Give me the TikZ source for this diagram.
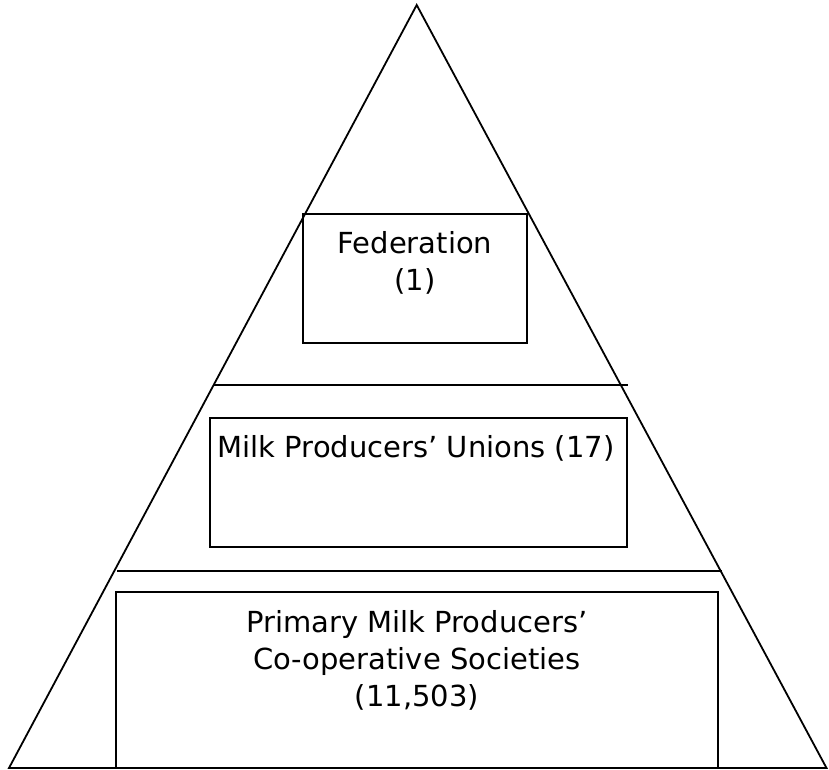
\documentclass[tikz,border=0pt]{standalone}
\usepackage{fontspec}
\setmainfont{DejaVu Sans}
\usetikzlibrary{positioning}

\begin{document}
\begin{tikzpicture}[x=1pt, y=1pt]
 \useasboundingbox (0,0) rectangle (829,769);
 \begin{scope}[every node/.append style={rectangle, draw=black, line width=2pt, inner sep=0pt}]
    \node[minimum width=224pt, minimum height=129pt] (fed) at (415, 490.5) {};
    \node[minimum width=417pt, minimum height=129pt] (unions) at (418.5, 286.8) {};
    \node[minimum width=602pt, minimum height=176pt] (primary) at (416.9, 89) {};
 \end{scope}
 \begin{scope}[every node/.append style={draw=none, align=center, inner sep=0pt, anchor=north, font=\fontsize{29}{36.8}\selectfont}]
    \node (fedtext) at ([yshift=-18pt]fed.north) {Federation\\(1)};
    \node (unionstext) at ([xshift=-2.5pt, yshift=-18.5pt]unions.north) {Milk Producers’ Unions (17)};
    \node (primarytext) at ([yshift=-19.5pt]primary.north) {Primary Milk Producers’\\Co-operative Societies\\(11,503)};
 \end{scope}
 % pyramid outline
 \coordinate (apex) at (416.7, 764);
 \coordinate (left) at (9, 1);
 \coordinate (right) at (826.5, 1);
 \draw[line width=1.8pt, line join=miter] (left) -- (apex) -- (right) -- cycle;
 % tier dividers
 \coordinate (d1l) at (213, 383.5);
 \coordinate (d1r) at (628, 383.5);
 \coordinate (d2l) at (117, 198.3);
 \coordinate (d2r) at (722, 198.3);
 \draw[line width=2pt] (d1l) -- (d1r);
 \draw[line width=2pt] (d2l) -- (d2r);
\end{tikzpicture}
\end{document}
